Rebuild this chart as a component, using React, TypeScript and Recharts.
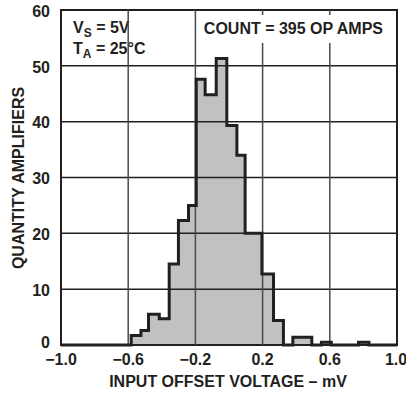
import { Area, ComposedChart, Line, ReferenceArea, ReferenceLine, XAxis, YAxis } from 'recharts';

// left edge of each step (mV) and the bar height that starts there
const binEdges = [
  -1.0, -0.582, -0.524, -0.479, -0.415, -0.356, -0.301, -0.241, -0.195, -0.142, -0.076, -0.013,
  0.047, 0.096, 0.196, 0.265, 0.324, 0.38, 0.493, 0.55, 0.609, 0.771, 0.833, 1.0,
];
const binCounts = [
  0, 1.7, 2.6, 5.5, 4.7, 14.5, 22.3, 25, 47.6, 44.8, 51.3, 39.3,
  34, 20, 12.7, 4.4, 0, 1.4, 0, 0.5, 0, 0.5, 0, 0,
];

const xTicks = [-1.0, -0.6, -0.2, 0.2, 0.6, 1.0];
const yTicks = [0, 10, 20, 30, 40, 50, 60];

const data = binEdges.map((v, i) => ({ v, count: binCounts[i] }));

const FONT = '"Liberation Sans", Arial, Helvetica, sans-serif';
const INK = '#231f20';

const fmtX = (v: number) => v.toFixed(1).replace('-', '\u2212');

// y tick: the "0" sits a little higher than its gridline in the original
function YTick(props: any) {
  const { x, y, payload } = props;
  const shift = payload.value === 0 ? -3 : 1;
  return (
    <text x={x} y={y + shift} dy="0.355em" textAnchor="end" fill={INK} fontSize={16} fontWeight={700} fontFamily={FONT}>
      {payload.value}
    </text>
  );
}

export default function App() {
  return (
    <div style={{ position: 'absolute', left: 0, top: 0, background: '#fff' }}>
      <ComposedChart
        width={406}
        height={393}
        data={data}
        margin={{ top: 10, right: 9, left: 0, bottom: 0 }}
        style={{ fontFamily: FONT, fontWeight: 700 }}
      >
        <XAxis
          type="number"
          dataKey="v"
          domain={[-1, 1]}
          ticks={xTicks}
          tickFormatter={fmtX}
          allowDataOverflow
          height={48}
          axisLine={false}
          tickLine={false}
          tickSize={0}
          tickMargin={9}
          tick={{ fill: INK, fontSize: 16, fontWeight: 700, fontFamily: FONT }}
        />
        <YAxis
          type="number"
          domain={[0, 60]}
          ticks={yTicks}
          width={61}
          axisLine={false}
          tickLine={false}
          tickSize={0}
          tickMargin={11}
          tick={YTick}
        />
        <Area
          type="stepAfter"
          dataKey="count"
          stroke="none"
          fill="#c0c1c3"
          fillOpacity={1}
          baseValue={0}
          isAnimationActive={false}
        />
        {yTicks.slice(1, -1).map((y) => (
          <ReferenceLine key={'h' + y} y={y} stroke={INK} strokeWidth={1.5} />
        ))}
        {xTicks.slice(1, -1).map((x) => (
          <ReferenceLine key={'v' + x} x={x} stroke="#4a4a4a" strokeWidth={1.5} />
        ))}
        <ReferenceArea x1={-1} x2={1} y1={0} y2={60} fill="none" fillOpacity={0} stroke={INK} strokeWidth={2} />
        <Line
          type="stepAfter"
          dataKey="count"
          stroke={INK}
          strokeWidth={3}
          strokeLinejoin="miter"
          dot={false}
          activeDot={false}
          isAnimationActive={false}
        />
        <text x={73} y={33} fill={INK} fontSize={16} fontWeight={700} fontFamily={FONT}>
          V<tspan fontSize={12} dy={4}>S</tspan>
          <tspan dy={-4}> = 5V</tspan>
        </text>
        <text x={73} y={54} fill={INK} fontSize={16} fontWeight={700} fontFamily={FONT}>
          T<tspan fontSize={12} dy={4}>A</tspan>
          <tspan dy={-4}> = 25°C</tspan>
        </text>
        <text x={228} y={387} textAnchor="middle" fill={INK} fontSize={16} fontWeight={700} fontFamily={FONT}>
          INPUT OFFSET VOLTAGE – mV
        </text>
        <text
          x={0}
          y={0}
          transform="translate(24 178) rotate(-90)"
          textAnchor="middle"
          fill={INK}
          fontSize={16}
          fontWeight={700}
          fontFamily={FONT}
        >
          QUANTITY AMPLIFIERS
        </text>
      </ComposedChart>
      {/* white label box that breaks the gridlines behind the count text */}
      <div
        style={{
          position: 'absolute',
          left: 203,
          top: 15,
          width: 180,
          height: 28,
          background: '#fff',
          color: INK,
          fontFamily: FONT,
          fontWeight: 700,
          fontSize: 16,
          lineHeight: '28px',
          textAlign: 'right',
          whiteSpace: 'nowrap',
        }}
      >
        COUNT = 395 OP AMPS
      </div>
    </div>
  );
}
